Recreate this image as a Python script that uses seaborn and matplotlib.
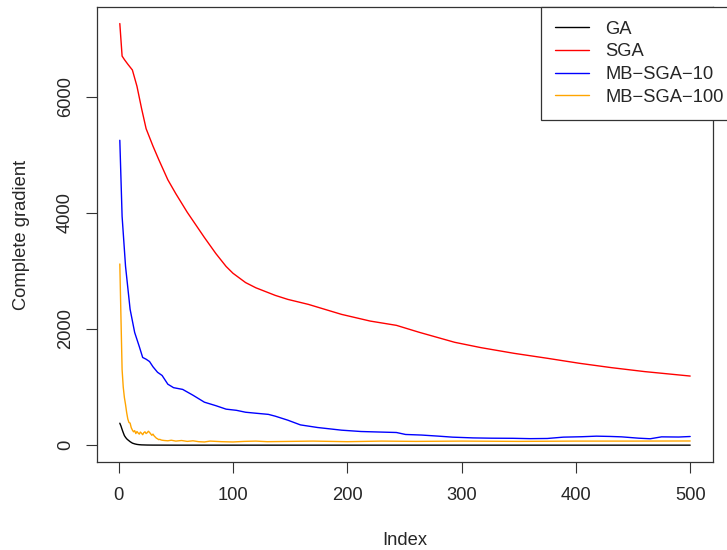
import pandas as pd
import matplotlib
matplotlib.use("Agg")
import matplotlib.pyplot as plt
import seaborn as sns

sns.set_style("ticks")
plt.rcParams["font.family"] = ["Liberation Sans", "DejaVu Sans"]

# values
ga_x = [1, 2, 3, 4, 5, 6, 7, 8, 10, 12, 14, 16, 18, 20, 25, 30, 50, 100, 200, 300, 400, 500]
ga_y = [378, 330, 270, 215, 165, 135, 110, 92, 60, 35, 22, 13, 8, 5, 2, 1, 0, 0, 0, 0, 0, 0]

sga_x = [1, 3, 5, 8, 12, 16, 20, 24, 30, 35, 43, 50, 60, 75, 85, 94, 100, 111, 120, 137,
         148, 166, 195, 220, 243, 263, 294, 317, 346, 375, 403, 431, 460, 500]
sga_y = [7260, 6700, 6640, 6560, 6460, 6180, 5800, 5450, 5150, 4920, 4570, 4330, 4010, 3576,
         3300, 3077, 2960, 2800, 2710, 2579, 2510, 2424, 2252, 2137, 2063, 1943, 1771, 1679,
         1581, 1496, 1410, 1335, 1267, 1190]

mb10_x = [1, 3, 6, 10, 14, 18, 21, 24, 27, 30, 34, 38, 43, 48, 56, 65, 75, 85, 94, 103,
          111, 120, 131, 137, 148, 159, 174, 195, 212, 230, 243, 251, 265, 280, 292, 310,
          326, 345, 360, 375, 389, 405, 418, 430, 440, 455, 465, 475, 490, 500]
mb10_y = [5250, 3940, 3080, 2340, 1940, 1700, 1510, 1480, 1440, 1350, 1255, 1200, 1050, 990,
          960, 860, 740, 680, 620, 600, 567, 550, 530, 499, 430, 349, 304, 258, 235, 225,
          218, 184, 174, 155, 138, 125, 120, 118, 112, 115, 138, 145, 155, 150, 143, 120,
          110, 143, 140, 149]

mb100_x = [1, 2, 3, 4, 5, 6, 7, 8, 9, 10, 11, 12, 13, 14, 15, 16, 17, 18, 19, 20, 21, 22,
           23, 24, 25, 26, 27, 28, 29, 30, 31, 32, 33, 34, 35, 36, 37, 38, 40, 43, 46, 50,
           55, 60, 65, 70, 75, 80, 90, 100, 110, 120, 130, 150, 170, 200, 230, 260, 300,
           350, 400, 450, 500]
mb100_y = [3120, 2200, 1300, 1000, 820, 700, 560, 450, 390, 380, 300, 260, 230, 250, 200,
           235, 210, 190, 225, 205, 180, 215, 230, 200, 215, 240, 220, 195, 170, 190, 160,
           140, 120, 110, 95, 100, 90, 85, 80, 75, 85, 70, 80, 65, 75, 60, 55, 70, 60, 55,
           65, 70, 60, 65, 70, 60, 70, 65, 70, 65, 70, 70, 72]

labels = ["GA", "SGA", "MB\u2212SGA\u221210", "MB\u2212SGA\u2212100"]
colors = ["black", "red", "blue", "orange"]
fs = 13.2

fig = plt.figure(figsize=(7.27, 5.5), dpi=100)
ax = fig.add_axes([97 / 727, 1 - 462 / 550, 616 / 727, 455 / 550])

series = [(ga_x, ga_y), (sga_x, sga_y), (mb10_x, mb10_y), (mb100_x, mb100_y)]
for (xs, ys), lab, col in zip(series, labels, colors):
    sns.lineplot(x=xs, y=ys, color=col, label=lab, ax=ax, linewidth=1.0,
                 estimator=None, sort=False, legend=False)

ax.set_xlim(-18.96, 519.96)
ax.set_ylim(-290, 7545)
ax.set_xticks([0, 100, 200, 300, 400, 500])
ax.set_yticks([0, 2000, 4000, 6000])
ax.tick_params(axis="both", direction="out", length=8, width=0.8, color="#333333",
               labelsize=fs)
ax.tick_params(axis="x", pad=10)
ax.tick_params(axis="y", pad=8.5)
for t in ax.get_yticklabels():
    t.set_rotation(90)
    t.set_va("center")
for s in ax.spines.values():
    s.set_color("#333333")
    s.set_linewidth(0.9)

ax.set_xlabel("Index", fontsize=fs)
ax.set_ylabel("Complete gradient", fontsize=fs)
ax.xaxis.set_label_coords(0.5, -0.153)
ax.yaxis.set_label_coords(-0.108, 0.5)

handles = [plt.Line2D([], [], color=c, linewidth=1.0) for c in colors]
leg = ax.legend(handles, labels, loc="upper left",
                bbox_to_anchor=(541 / 727, 1 - 7 / 550), bbox_transform=fig.transFigure,
                fontsize=fs, frameon=True, fancybox=False, edgecolor="#333333",
                framealpha=1, borderpad=0.75, labelspacing=0.31, handlelength=1.85,
                handletextpad=0.9, borderaxespad=0)
leg.get_frame().set_linewidth(0.9)

fig.savefig("out.png", dpi=100)
